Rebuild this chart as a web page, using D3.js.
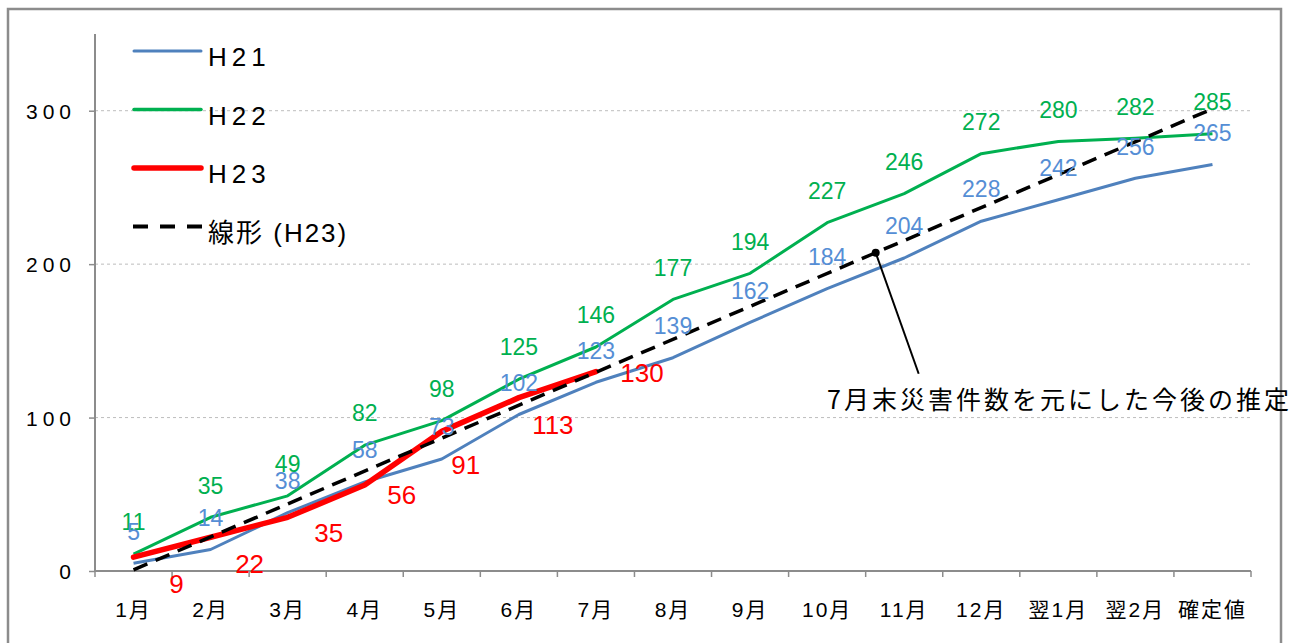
<!DOCTYPE html>
<html><head><meta charset="utf-8">
<script src="https://cdn.jsdelivr.net/npm/d3@7"></script>
<style>
html,body{margin:0;padding:0;background:#fff;}
svg{display:block;font-family:"Liberation Sans",Arial,"Noto Sans CJK JP",sans-serif;}
</style></head>
<body>
<svg id="chart" width="1300" height="643"></svg>
<script>
// ---- data ----
const categories = ["1月","2月","3月","4月","5月","6月","7月","8月","9月","10月","11月","12月","翌1月","翌2月","確定値"];
const h21 = [5,14,38,58,73,102,123,139,162,184,204,228,242,256,265];
const h22 = [11,35,49,82,98,125,146,177,194,227,246,272,280,282,285];
const h23 = [9,22,35,56,91,113,130];
const yTicks = [0,100,200,300];
const seriesNames = ["H21","H22","H23","線形 (H23)"];
const annotationText = "7月末災害件数を元にした今後の推定";
// label placement for H23 (pixel offsets from point, layout only)
const h23LabelDx = [43,39,41,37,24,34,46];
const h23LabelDy = [26,26,15,10,33,27,1];

(function () {
// ---- layout ----
const svg = d3.select("#chart");
const pL = 95, pR = 1251, pT = 34, pB = 571;
const x = d3.scaleBand().domain(categories).range([pL, pR]);
const xi = d3.scaleLinear().domain([0.5, categories.length + 0.5]).range([pL, pR]);
const y = d3.scaleLinear().domain([0, 350]).range([pB, pT]);
const cx = (i) => x(categories[i]) + x.bandwidth() / 2;

// outer border
svg.append("rect").attr("x", 8).attr("y", 9).attr("width", 1273).attr("height", 660)
  .attr("fill", "none").attr("stroke", "#8c8c8c").attr("stroke-width", 2.5);

// gridlines
svg.append("g").selectAll("line").data(yTicks.filter(d => d > 0)).join("line")
  .attr("x1", pL).attr("x2", pR).attr("y1", d => y(d)).attr("y2", d => y(d))
  .attr("stroke", "#bdbdbd").attr("stroke-width", 1).attr("stroke-dasharray", "3,3");

// y axis
const yAxis = svg.append("g").attr("transform", `translate(${pL},0)`)
  .call(d3.axisLeft(y).tickValues(yTicks).tickSize(6).tickPadding(0).tickFormat(d3.format("d")));
yAxis.select(".domain").attr("stroke", "#8c8c8c").attr("stroke-width", 2).attr("d", `M0,${pT}V${pB}`);
yAxis.selectAll(".tick line").attr("stroke", "#8c8c8c").attr("stroke-width", 1.5);
yAxis.selectAll(".tick text").attr("x", -19).attr("dy", "0.36em")
  .attr("font-size", 21).attr("letter-spacing", "5px").attr("fill", "#000")
  .attr("font-family", "Liberation Sans, Arial, sans-serif");

// x axis
const xAxis = svg.append("g").attr("transform", `translate(0,${pB})`)
  .call(d3.axisBottom(x).tickSize(0).tickPadding(0));
xAxis.select(".domain").attr("stroke", "#8c8c8c").attr("stroke-width", 2).attr("d", `M${pL},0H${pR}`);
xAxis.selectAll(".tick text").attr("y", 46).attr("dy", 0)
  .attr("font-size", 21).attr("letter-spacing", "2px").attr("fill", "#000")
  .attr("font-family", "Liberation Sans, Arial, Noto Sans CJK JP, sans-serif");
xAxis.append("g").selectAll("line").data(d3.range(categories.length + 1)).join("line")
  .attr("x1", i => pL + i * x.bandwidth()).attr("x2", i => pL + i * x.bandwidth())
  .attr("y1", 0).attr("y2", 6).attr("stroke", "#8c8c8c").attr("stroke-width", 1.5);

// lines
const line = d3.line().x((d, i) => cx(i)).y(d => y(d));
svg.append("path").datum(h21).attr("d", line).attr("fill", "none")
  .attr("stroke", "#4F81BD").attr("stroke-width", 3).attr("stroke-linejoin", "round");
svg.append("path").datum(h22).attr("d", line).attr("fill", "none")
  .attr("stroke", "#00B050").attr("stroke-width", 3).attr("stroke-linejoin", "round");
svg.append("path").datum(h23).attr("d", line).attr("fill", "none")
  .attr("stroke", "#FF0000").attr("stroke-width", 5.5).attr("stroke-linejoin", "round").attr("stroke-linecap", "round");

// linear trendline of H23 (least squares)
const xs = h23.map((d, i) => i + 1);
const mx = d3.mean(xs), my = d3.mean(h23);
const slope = d3.sum(xs, (xv, i) => (xv - mx) * (h23[i] - my)) / d3.sum(xs, xv => (xv - mx) ** 2);
const intercept = my - slope * mx;
const trend = (t) => intercept + slope * t;
svg.append("path").datum([1, categories.length])
  .attr("d", d3.line().x(t => xi(t)).y(t => y(trend(t))))
  .attr("fill", "none").attr("stroke", "#000").attr("stroke-width", 3.5).attr("stroke-dasharray", "15,9");

// data labels
const lab = svg.append("g").attr("text-anchor", "middle").attr("font-family", "Liberation Sans, Arial, sans-serif");
lab.selectAll("text.g").data(h22).join("text").attr("class", "g")
  .attr("x", (d, i) => cx(i)).attr("y", d => y(d) - 32).attr("dy", "0.36em")
  .attr("font-size", 23).attr("fill", "#00B050").text(d => d);
lab.selectAll("text.b").data(h21).join("text").attr("class", "b")
  .attr("x", (d, i) => cx(i)).attr("y", d => y(d) - 32).attr("dy", "0.36em")
  .attr("font-size", 23).attr("fill", "#558ED5").text(d => d);
lab.selectAll("text.r").data(h23).join("text").attr("class", "r")
  .attr("x", (d, i) => cx(i) + h23LabelDx[i]).attr("y", (d, i) => y(d) + h23LabelDy[i]).attr("dy", "0.36em")
  .attr("font-size", 26).attr("fill", "#FF0000").text(d => d);

// legend
const legendStyles = [
  {color: "#4F81BD", w: 3, dash: null},
  {color: "#00B050", w: 3.5, dash: null},
  {color: "#FF0000", w: 5.5, dash: null},
  {color: "#000", w: 4, dash: "15,12"}
];
const lg = svg.append("g");
seriesNames.forEach((name, i) => {
  const ly = 51 + i * 58.5;
  const s = legendStyles[i];
  const l = lg.append("line").attr("x1", 134).attr("x2", 201).attr("y1", ly).attr("y2", ly)
    .attr("stroke", s.color).attr("stroke-width", s.w).attr("stroke-linecap", s.dash ? "butt" : "round");
  if (s.dash) l.attr("stroke-dasharray", s.dash).attr("x1", 133).attr("x2", 203);
  lg.append("text").attr("x", 208).attr("y", ly + 15).attr("font-size", 26)
    .attr("letter-spacing", i === 3 ? "2px" : "5px").attr("fill", "#000")
    .attr("font-family", "Liberation Sans, Arial, Noto Sans CJK JP, sans-serif").text(name);
});

// annotation
const at = 10.63;
const ax = xi(at), ay = y(trend(at));
svg.append("line").attr("x1", ax).attr("y1", ay).attr("x2", ax + 43).attr("y2", ay + 121)
  .attr("stroke", "#000").attr("stroke-width", 2);
svg.append("circle").attr("cx", ax).attr("cy", ay).attr("r", 4).attr("fill", "#000");
svg.append("text").attr("x", 827).attr("y", 409).attr("font-size", 25).attr("letter-spacing", "3px")
  .attr("fill", "#000").attr("font-family", "Noto Sans CJK JP, sans-serif").text(annotationText);
})();
</script>
</body></html>
